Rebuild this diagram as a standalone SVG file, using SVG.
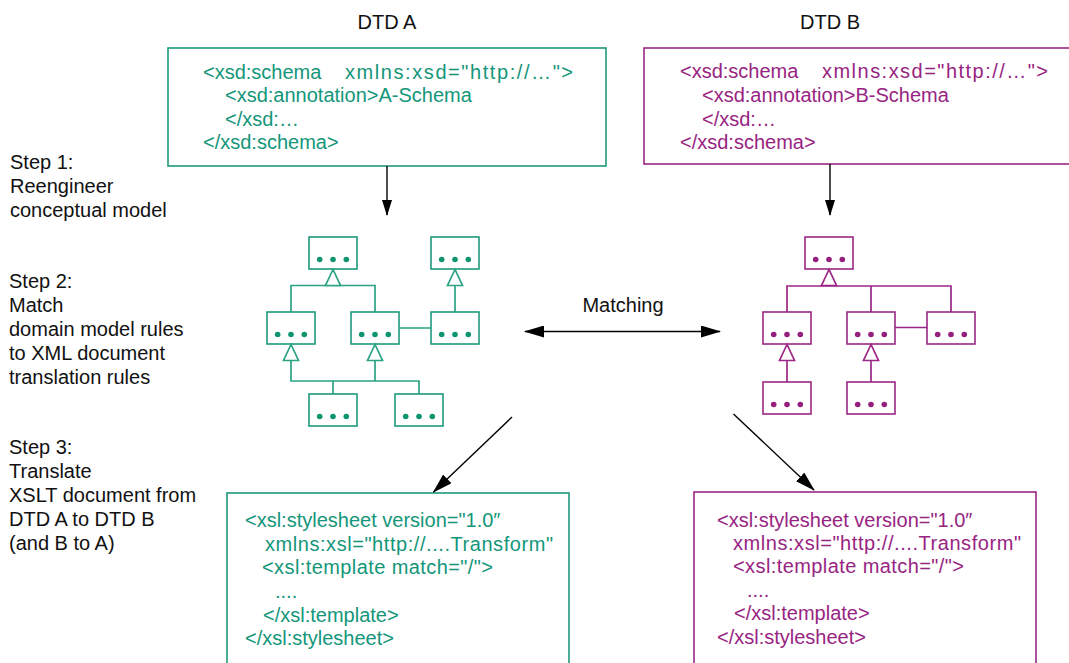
<svg xmlns="http://www.w3.org/2000/svg" width="1069" height="663" viewBox="0 0 1069 663">
<style>
  .lbl { font-family: "Liberation Sans", Arial, sans-serif; font-size: 20px; fill: #111; }
  .codeA { font-family: "Liberation Sans", Arial, sans-serif; font-size: 20px; fill: #13967a; }
  .codeB { font-family: "Liberation Sans", Arial, sans-serif; font-size: 20px; fill: #982482; }
  .boxA { fill: #fff; stroke: #1d9a7c; stroke-width: 1.6; }
  .boxB { fill: #fff; stroke: #9c2786; stroke-width: 1.6; }
  .lnA { fill: none; stroke: #2aa283; stroke-width: 1.7; }
  .lnB { fill: none; stroke: #9c2786; stroke-width: 1.7; }
  .triA { fill: #fff; stroke: #2aa283; stroke-width: 1.7; }
  .triB { fill: #fff; stroke: #9c2786; stroke-width: 1.7; }
  .dotA { fill: #0f9470; }
  .dotB { fill: #951f7e; }
  .arr { fill: none; stroke: #000; stroke-width: 1.4; }
</style>
<defs>
  <marker id="ah" markerUnits="userSpaceOnUse" markerWidth="20" markerHeight="12" refX="19" refY="6" orient="auto-start-reverse" viewBox="0 0 20 12">
    <path d="M0,0 L20,6 L0,12 z" fill="#000"/>
  </marker>
  <marker id="ahs" markerUnits="userSpaceOnUse" markerWidth="16" markerHeight="10" refX="15" refY="5" orient="auto" viewBox="0 0 16 10">
    <path d="M0,0 L16,5 L0,10 z" fill="#000"/>
  </marker>
  <g id="dotsA"><circle cx="-13.3" cy="0" r="2.8" class="dotA"/><circle cx="0" cy="0" r="2.8" class="dotA"/><circle cx="13.3" cy="0" r="2.8" class="dotA"/></g>
  <g id="dotsB"><circle cx="-13.3" cy="0" r="2.8" class="dotB"/><circle cx="0" cy="0" r="2.8" class="dotB"/><circle cx="13.3" cy="0" r="2.8" class="dotB"/></g>
</defs>
<rect x="0" y="0" width="1069" height="663" fill="#fff"/>

<!-- Titles and step labels -->
<g id="titles">
  <text class="lbl" x="387" y="29" text-anchor="middle">DTD A</text>
  <text class="lbl" x="830" y="29" text-anchor="middle">DTD B</text>
</g>
<g id="steps" class="lbl">
  <text x="10" y="169">Step 1:</text>
  <text x="10" y="193">Reengineer</text>
  <text x="10" y="217">conceptual model</text>
  <text x="9" y="288">Step 2:</text>
  <text x="9" y="312">Match</text>
  <text x="9" y="336">domain model rules</text>
  <text x="9" y="360">to XML document</text>
  <text x="9" y="384">translation rules</text>
  <text x="9" y="454">Step 3:</text>
  <text x="9" y="478">Translate</text>
  <text x="9" y="502">XSLT document from</text>
  <text x="9" y="526">DTD A to DTD B</text>
  <text x="9" y="550">(and B to A)</text>
</g>

<!-- Schema boxes -->
<g id="schemaA">
  <rect class="boxA" x="168" y="48" width="438" height="118"/>
  <text class="codeA" x="203" y="79">&lt;xsd:schema</text>
  <text class="codeA" x="345" y="79" textLength="228" lengthAdjust="spacing">xmlns:xsd="http://…"&gt;</text>
  <text class="codeA" x="225" y="102">&lt;xsd:annotation&gt;A-Schema</text>
  <text class="codeA" x="225" y="126">&lt;/xsd:…</text>
  <text class="codeA" x="203" y="149">&lt;/xsd:schema&gt;</text>
</g>
<g id="schemaB">
  <rect class="boxB" x="644" y="48" width="440" height="116"/>
  <text class="codeB" x="680" y="78">&lt;xsd:schema</text>
  <text class="codeB" x="822" y="78" textLength="226" lengthAdjust="spacing">xmlns:xsd="http://…"&gt;</text>
  <text class="codeB" x="702" y="102">&lt;xsd:annotation&gt;B-Schema</text>
  <text class="codeB" x="702" y="126">&lt;/xsd:…</text>
  <text class="codeB" x="680" y="149">&lt;/xsd:schema&gt;</text>
</g>

<!-- Class diagram A -->
<g id="classA1"><rect class="boxA" x="309" y="237" width="48" height="32"/><use href="#dotsA" x="333" y="259.5"/></g>
<g id="classA2"><rect class="boxA" x="431" y="237" width="48" height="32"/><use href="#dotsA" x="455" y="259.5"/></g>
<g id="classA3"><rect class="boxA" x="267" y="312" width="48" height="32"/><use href="#dotsA" x="291" y="334.5"/></g>
<g id="classA4"><rect class="boxA" x="351" y="312" width="48" height="32"/><use href="#dotsA" x="375" y="334.5"/></g>
<g id="classA5"><rect class="boxA" x="431" y="312" width="48" height="32"/><use href="#dotsA" x="455" y="334.5"/></g>
<g id="classA6"><rect class="boxA" x="309" y="394" width="48" height="32"/><use href="#dotsA" x="333" y="416.5"/></g>
<g id="classA7"><rect class="boxA" x="395" y="394" width="48" height="32"/><use href="#dotsA" x="419" y="416.5"/></g>

<!-- Class diagram B -->
<g id="classB1"><rect class="boxB" x="805" y="237" width="48" height="32"/><use href="#dotsB" x="829" y="259.5"/></g>
<g id="classB2"><rect class="boxB" x="763" y="312" width="48" height="32"/><use href="#dotsB" x="787" y="334.5"/></g>
<g id="classB3"><rect class="boxB" x="847" y="312" width="48" height="32"/><use href="#dotsB" x="871" y="334.5"/></g>
<g id="classB4"><rect class="boxB" x="927" y="312" width="48" height="32"/><use href="#dotsB" x="951" y="334.5"/></g>
<g id="classB5"><rect class="boxB" x="763" y="382" width="48" height="32"/><use href="#dotsB" x="787" y="404.5"/></g>
<g id="classB6"><rect class="boxB" x="847" y="382" width="48" height="32"/><use href="#dotsB" x="871" y="404.5"/></g>

<!-- Stylesheet boxes -->
<g id="xslA">
  <rect class="boxA" x="227" y="493" width="342" height="190"/>
  <text class="codeA" x="245" y="527">&lt;xsl:stylesheet version="1.0″</text>
  <text class="codeA" x="265" y="551" textLength="288" lengthAdjust="spacing">xmlns:xsl="http://....Transform"</text>
  <text class="codeA" x="262" y="574" textLength="231" lengthAdjust="spacing">&lt;xsl:template match="/"&gt;</text>
  <text class="codeA" x="275" y="598">....</text>
  <text class="codeA" x="263" y="622">&lt;/xsl:template&gt;</text>
  <text class="codeA" x="245" y="645">&lt;/xsl:stylesheet&gt;</text>
</g>
<g id="xslB">
  <rect class="boxB" x="694" y="492" width="342" height="190"/>
  <text class="codeB" x="717" y="527">&lt;xsl:stylesheet version="1.0″</text>
  <text class="codeB" x="733" y="550" textLength="288" lengthAdjust="spacing">xmlns:xsl="http://....Transform"</text>
  <text class="codeB" x="733" y="573" textLength="231" lengthAdjust="spacing">&lt;xsl:template match="/"&gt;</text>
  <text class="codeB" x="747" y="597">....</text>
  <text class="codeB" x="734" y="620">&lt;/xsl:template&gt;</text>
  <text class="codeB" x="717" y="644">&lt;/xsl:stylesheet&gt;</text>
</g>

<text id="matchingLabel" class="lbl" x="623" y="312" text-anchor="middle">Matching</text>

<!-- Connectors -->
<g id="connectors">
  <!-- class diagram A -->
  <path class="lnA" d="M291,312 V285.5 H375 V312 M455,285.5 V312 M399,328 H431 M291,360 V381 H419 V394 M375,360 V381 M333,381 V394"/>
  <polygon class="triA" points="333,269.5 325.5,285.5 340.5,285.5"/>
  <polygon class="triA" points="455,269.5 447.5,285.5 462.5,285.5"/>
  <polygon class="triA" points="291,344.5 283.5,360.5 298.5,360.5"/>
  <polygon class="triA" points="375,344.5 367.5,360.5 382.5,360.5"/>
  <!-- class diagram B -->
  <path class="lnB" d="M787,312 V286 H951 V312 M871,286 V312 M895,327.5 H927 M787,360 V382 M871,360 V382"/>
  <polygon class="triB" points="829,269.5 821.5,285.5 836.5,285.5"/>
  <polygon class="triB" points="787,344.5 779.5,360.5 794.5,360.5"/>
  <polygon class="triB" points="871,344.5 863.5,360.5 878.5,360.5"/>
  <!-- flow arrows -->
  <line class="arr" x1="387" y1="166" x2="387" y2="215" marker-end="url(#ahs)"/>
  <line class="arr" x1="830" y1="164" x2="830" y2="215" marker-end="url(#ahs)"/>
  <line class="arr" x1="525" y1="331.5" x2="720" y2="331.5" marker-start="url(#ah)" marker-end="url(#ah)"/>
  <line class="arr" x1="512" y1="417" x2="433.5" y2="492" marker-end="url(#ah)"/>
  <line class="arr" x1="733.5" y1="414" x2="814" y2="490" marker-end="url(#ah)"/>
</g>
</svg>
